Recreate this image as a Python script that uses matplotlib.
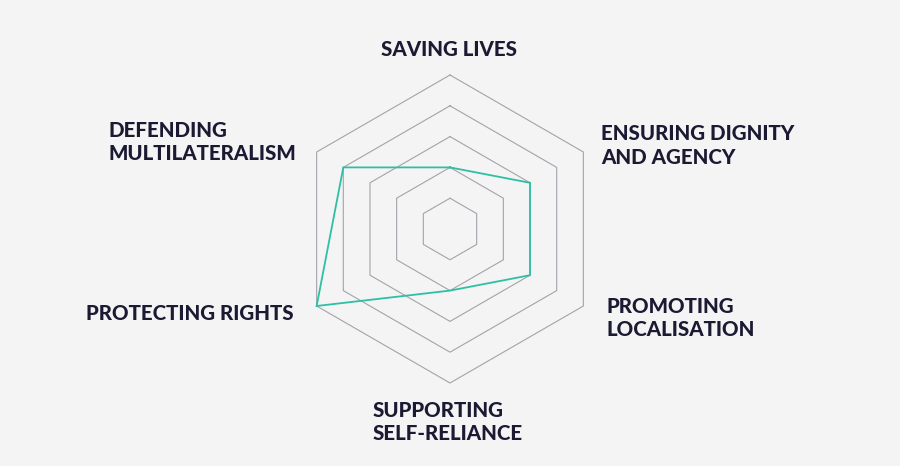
import numpy as np
import matplotlib
matplotlib.use("Agg")
import matplotlib.pyplot as plt

categories = ["SAVING LIVES", "ENSURING DIGNITY\nAND AGENCY", "PROMOTING\nLOCALISATION",
              "SUPPORTING\nSELF-RELIANCE", "PROTECTING RIGHTS", "DEFENDING\nMULTILATERALISM"]
values = [0.4, 0.6, 0.6, 0.4, 1.0, 0.8]
grid_levels = [0.2, 0.4, 0.6, 0.8, 1.0]

BG = "#f4f4f4"
TXT = "#1c1a33"
GRID = "#a3a3ab"
TEAL = "#2ebfa5"

fig = plt.figure(figsize=(9, 4.66), dpi=100, facecolor=BG)
ax = fig.add_axes([0, 0, 1, 1])
ax.set_facecolor(BG)
ax.set_xlim(0, 900)
ax.set_ylim(466, 0)
ax.axis("off")

cx, cy, R = 450, 229, 154
n = len(categories)
angles = np.pi / 2 - np.arange(n) * 2 * np.pi / n  # clockwise from top

def xy(r):
    r = np.asarray(r, dtype=float)
    return cx + R * r * np.cos(angles), cy - R * r * np.sin(angles)

for lv in grid_levels:
    x, y = xy([lv] * n)
    ax.plot(np.append(x, x[0]), np.append(y, y[0]), color=GRID, lw=0.8)

x, y = xy(values)
ax.plot(np.append(x, x[0]), np.append(y, y[0]), color=TEAL, lw=1.3, solid_joinstyle="miter")

# label anchors: (x, first baseline y, ha)
anchors = [(449, 56, "center"), (601, 140, "left"), (607, 313, "left"),
           (373, 417, "left"), (294, 320, "right"), (108, 137, "left")]
lh = 23.5
for lab, (tx, ty, ha) in zip(categories, anchors):
    for i, line in enumerate(lab.split("\n")):
        ax.text(tx, ty + i * lh, line, ha=ha, va="baseline", fontsize=14.8,
                fontfamily="Lato", fontweight="black", color=TXT)

fig.savefig("out.png", dpi=100, facecolor=BG)
